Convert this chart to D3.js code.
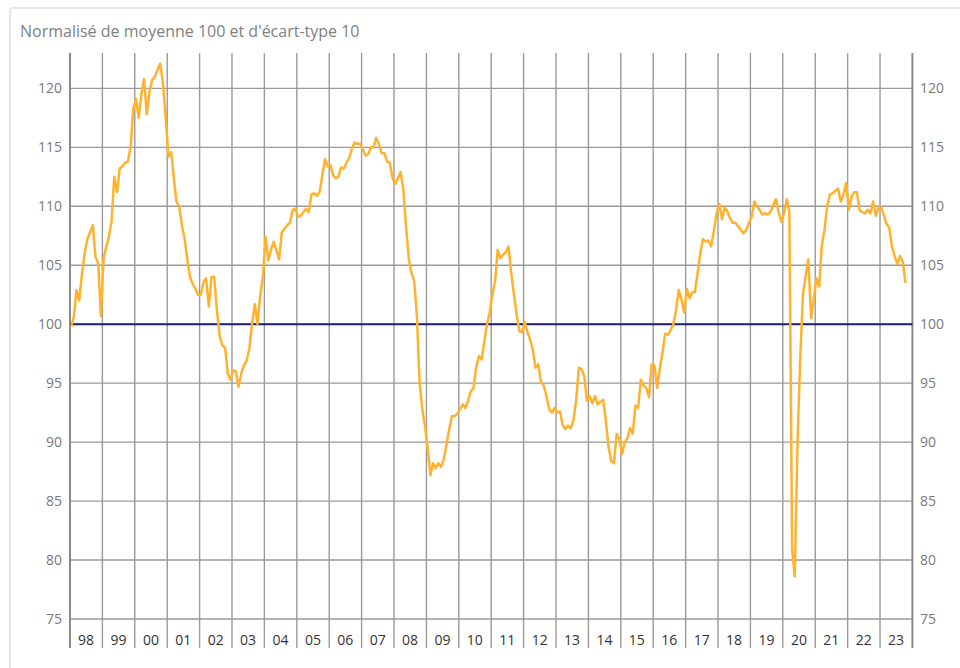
<!DOCTYPE html>
<html>
<head>
<meta charset="utf-8">
<script src="https://cdn.jsdelivr.net/npm/d3@7"></script>
<style>
  body { margin: 0; background: #fff; }
  svg { font-family: "Open Sans", sans-serif; }
</style>
</head>
<body>
<svg id="canvas" width="960" height="668"></svg>
<script>
let title = "Normalisé de moyenne 100 et d'écart-type 10";

// one label per year band, 1998 -> 2023
let yearLabels = ["98", "99", "00", "01", "02", "03", "04", "05", "06", "07", "08", "09", "10",
                  "11", "12", "13", "14", "15", "16", "17", "18", "19", "20", "21", "22", "23"];
let firstYear = 1998;

let yTicks = [75, 80, 85, 90, 95, 100, 105, 110, 115, 120];
let refValue = 100;

// monthly values, starting january 1998 (one row per year)
let values = [
    99.8, 100.7, 102.9, 102.0, 104.2, 106.0, 107.2, 107.8, 108.4, 105.7, 105.2, 100.7,
    105.6, 106.6, 107.4, 108.8, 112.5, 111.2, 113.2, 113.4, 113.7, 113.8, 115.0, 118.3,
    119.1, 117.5, 119.5, 120.8, 117.8, 119.7, 120.7, 121.0, 121.6, 122.1, 120.3, 117.5,
    114.2, 114.6, 112.5, 110.4, 110.0, 108.4, 107.3, 105.5, 104.0, 103.4, 103.0, 102.5,
    102.5, 103.6, 103.9, 101.5, 104.0, 104.0, 101.2, 99.0, 98.2, 98.0, 95.8, 95.3,
    96.1, 96.0, 94.7, 95.8, 96.5, 96.9, 97.9, 100.0, 101.7, 100.0, 102.4, 104.0,
    107.4, 105.4, 106.3, 107.0, 106.3, 105.5, 107.8, 108.1, 108.4, 108.6, 109.7, 109.8,
    109.1, 109.2, 109.5, 109.8, 109.5, 111.0, 111.1, 110.9, 111.2, 112.6, 114.0, 113.4,
    113.5, 112.6, 112.4, 112.5, 113.3, 113.2, 113.7, 114.1, 114.9, 115.4, 115.3, 115.3,
    114.8, 114.3, 114.4, 115.0, 115.0, 115.8, 115.3, 114.5, 114.5, 113.8, 113.7, 112.4,
    111.9, 112.4, 112.9, 111.5, 108.4, 105.6, 104.4, 103.7, 100.8, 95.1, 92.8, 91.4,
    89.5, 87.2, 88.2, 87.8, 88.2, 87.9, 88.5, 89.8, 91.1, 92.2, 92.2, 92.4,
    92.8, 93.2, 92.9, 93.5, 94.3, 94.6, 96.3, 97.3, 97.0, 98.5, 100.0, 101.0,
    102.5, 103.7, 106.3, 105.6, 105.9, 106.1, 106.6, 104.3, 102.5, 100.8, 99.4, 99.3,
    100.2, 99.3, 98.7, 97.8, 96.3, 96.6, 95.1, 94.8, 93.9, 92.8, 92.5, 92.9,
    92.5, 92.6, 91.5, 91.1, 91.4, 91.2, 91.8, 93.5, 96.3, 96.2, 95.6, 93.5,
    93.9, 93.3, 93.9, 93.2, 93.4, 93.6, 91.9, 89.6, 88.4, 88.2, 90.7, 90.3,
    89.0, 90.0, 90.3, 91.2, 90.7, 93.1, 92.9, 95.3, 94.8, 94.6, 93.8, 96.6,
    96.5, 94.6, 96.2, 97.6, 99.2, 99.1, 99.5, 100.0, 101.2, 102.9, 102.1, 101.0,
    103.0, 102.2, 102.7, 102.7, 104.3, 106.0, 107.2, 107.0, 107.1, 106.6, 107.9, 109.4,
    110.2, 108.9, 109.9, 109.6, 109.0, 108.6, 108.6, 108.3, 108.0, 107.7, 108.0, 108.6,
    109.1, 110.4, 110.0, 109.7, 109.3, 109.4, 109.3, 109.5, 110.1, 110.6, 109.5, 108.7,
    109.4, 110.6, 109.5, 80.9, 78.6, 90.0, 97.0, 102.5, 104.1, 105.5, 100.5, 102.1,
    103.9, 103.2, 106.6, 108.0, 110.0, 111.0, 111.1, 111.3, 111.5, 110.4, 111.0, 112.0,
    109.7, 110.8, 111.2, 111.2, 109.7, 109.5, 109.4, 109.7, 109.4, 110.4, 109.2, 109.9,
    109.9, 109.2, 108.5, 108.2, 106.6, 105.8, 105.1, 105.8, 105.3, 103.5
];

let canvas = d3.select("#canvas");

let plotLeft = 70, plotRight = 912.4, plotTop = 53, plotBottom = 619;
let lastYear = firstYear + yearLabels.length;

let xScale = d3.scaleTime()
    .domain([new Date(firstYear, 0, 1), new Date(lastYear, 0, 1)])
    .range([plotLeft, plotRight]);

let yScale = d3.scaleLinear()
    .domain([75, 123])
    .range([plotBottom, plotTop]);

// frame around the chart (cut by the window on the right and bottom)
canvas.append("rect")
    .attr("x", 10).attr("y", 8)
    .attr("width", 1000).attr("height", 700)
    .attr("rx", 3)
    .attr("fill", "none")
    .attr("stroke", "#e6e6e6")
    .attr("stroke-width", 2);

canvas.append("text")
    .attr("x", 20).attr("y", 37)
    .attr("fill", "#808080")
    .style("font-size", "16px")
    .text(title);

// horizontal grid
canvas.append("g")
    .selectAll("line")
    .data(yTicks)
    .enter()
    .append("line")
    .attr("x1", plotLeft).attr("x2", plotRight)
    .attr("y1", d => yScale(d)).attr("y2", d => yScale(d))
    .attr("stroke", "#9a9a9a")
    .attr("stroke-width", 1.4);

// vertical lines at each year boundary, they go down into the label row
let yearBounds = d3.range(firstYear, lastYear + 1).map(y => new Date(y, 0, 1));

canvas.append("g")
    .selectAll("line")
    .data(yearBounds)
    .enter()
    .append("line")
    .attr("x1", d => xScale(d)).attr("x2", d => xScale(d))
    .attr("y1", plotTop).attr("y2", 648)
    .attr("stroke", (d, i) => (i === 0 || i === yearBounds.length - 1) ? "#8a8a8a" : "#9a9a9a")
    .attr("stroke-width", (d, i) => (i === 0 || i === yearBounds.length - 1) ? 2 : 1.4);

// y labels, both sides
let yLabels = canvas.append("g")
    .attr("fill", "#7a7a7a")
    .style("font-size", "14px");

yLabels.selectAll(".left")
    .data(yTicks)
    .enter()
    .append("text")
    .attr("class", "left")
    .attr("x", 62)
    .attr("y", d => yScale(d) + 5)
    .attr("text-anchor", "end")
    .text(d => d);

yLabels.selectAll(".right")
    .data(yTicks)
    .enter()
    .append("text")
    .attr("class", "right")
    .attr("x", 920)
    .attr("y", d => yScale(d) + 5)
    .attr("text-anchor", "start")
    .text(d => d);

// year labels centred in each band
canvas.append("g")
    .selectAll("text")
    .data(yearLabels)
    .enter()
    .append("text")
    .attr("x", (d, i) => xScale(new Date(firstYear + i, 6, 1)))
    .attr("y", 645)
    .attr("text-anchor", "middle")
    .attr("fill", "#333")
    .style("font-size", "14px")
    .text(d => d);

// reference line at 100
canvas.append("line")
    .attr("x1", plotLeft).attr("x2", plotRight)
    .attr("y1", yScale(refValue)).attr("y2", yScale(refValue))
    .attr("stroke", "#1f2077")
    .attr("stroke-width", 2);

let line = d3.line()
    .x((d, i) => xScale(new Date(firstYear, i, 15)))
    .y(d => yScale(d));

canvas.append("path")
    .datum(values)
    .attr("d", line)
    .attr("fill", "none")
    .attr("stroke", "#ffb22e")
    .attr("stroke-width", 2.5)
    .attr("stroke-linejoin", "round");
</script>
</body>
</html>
